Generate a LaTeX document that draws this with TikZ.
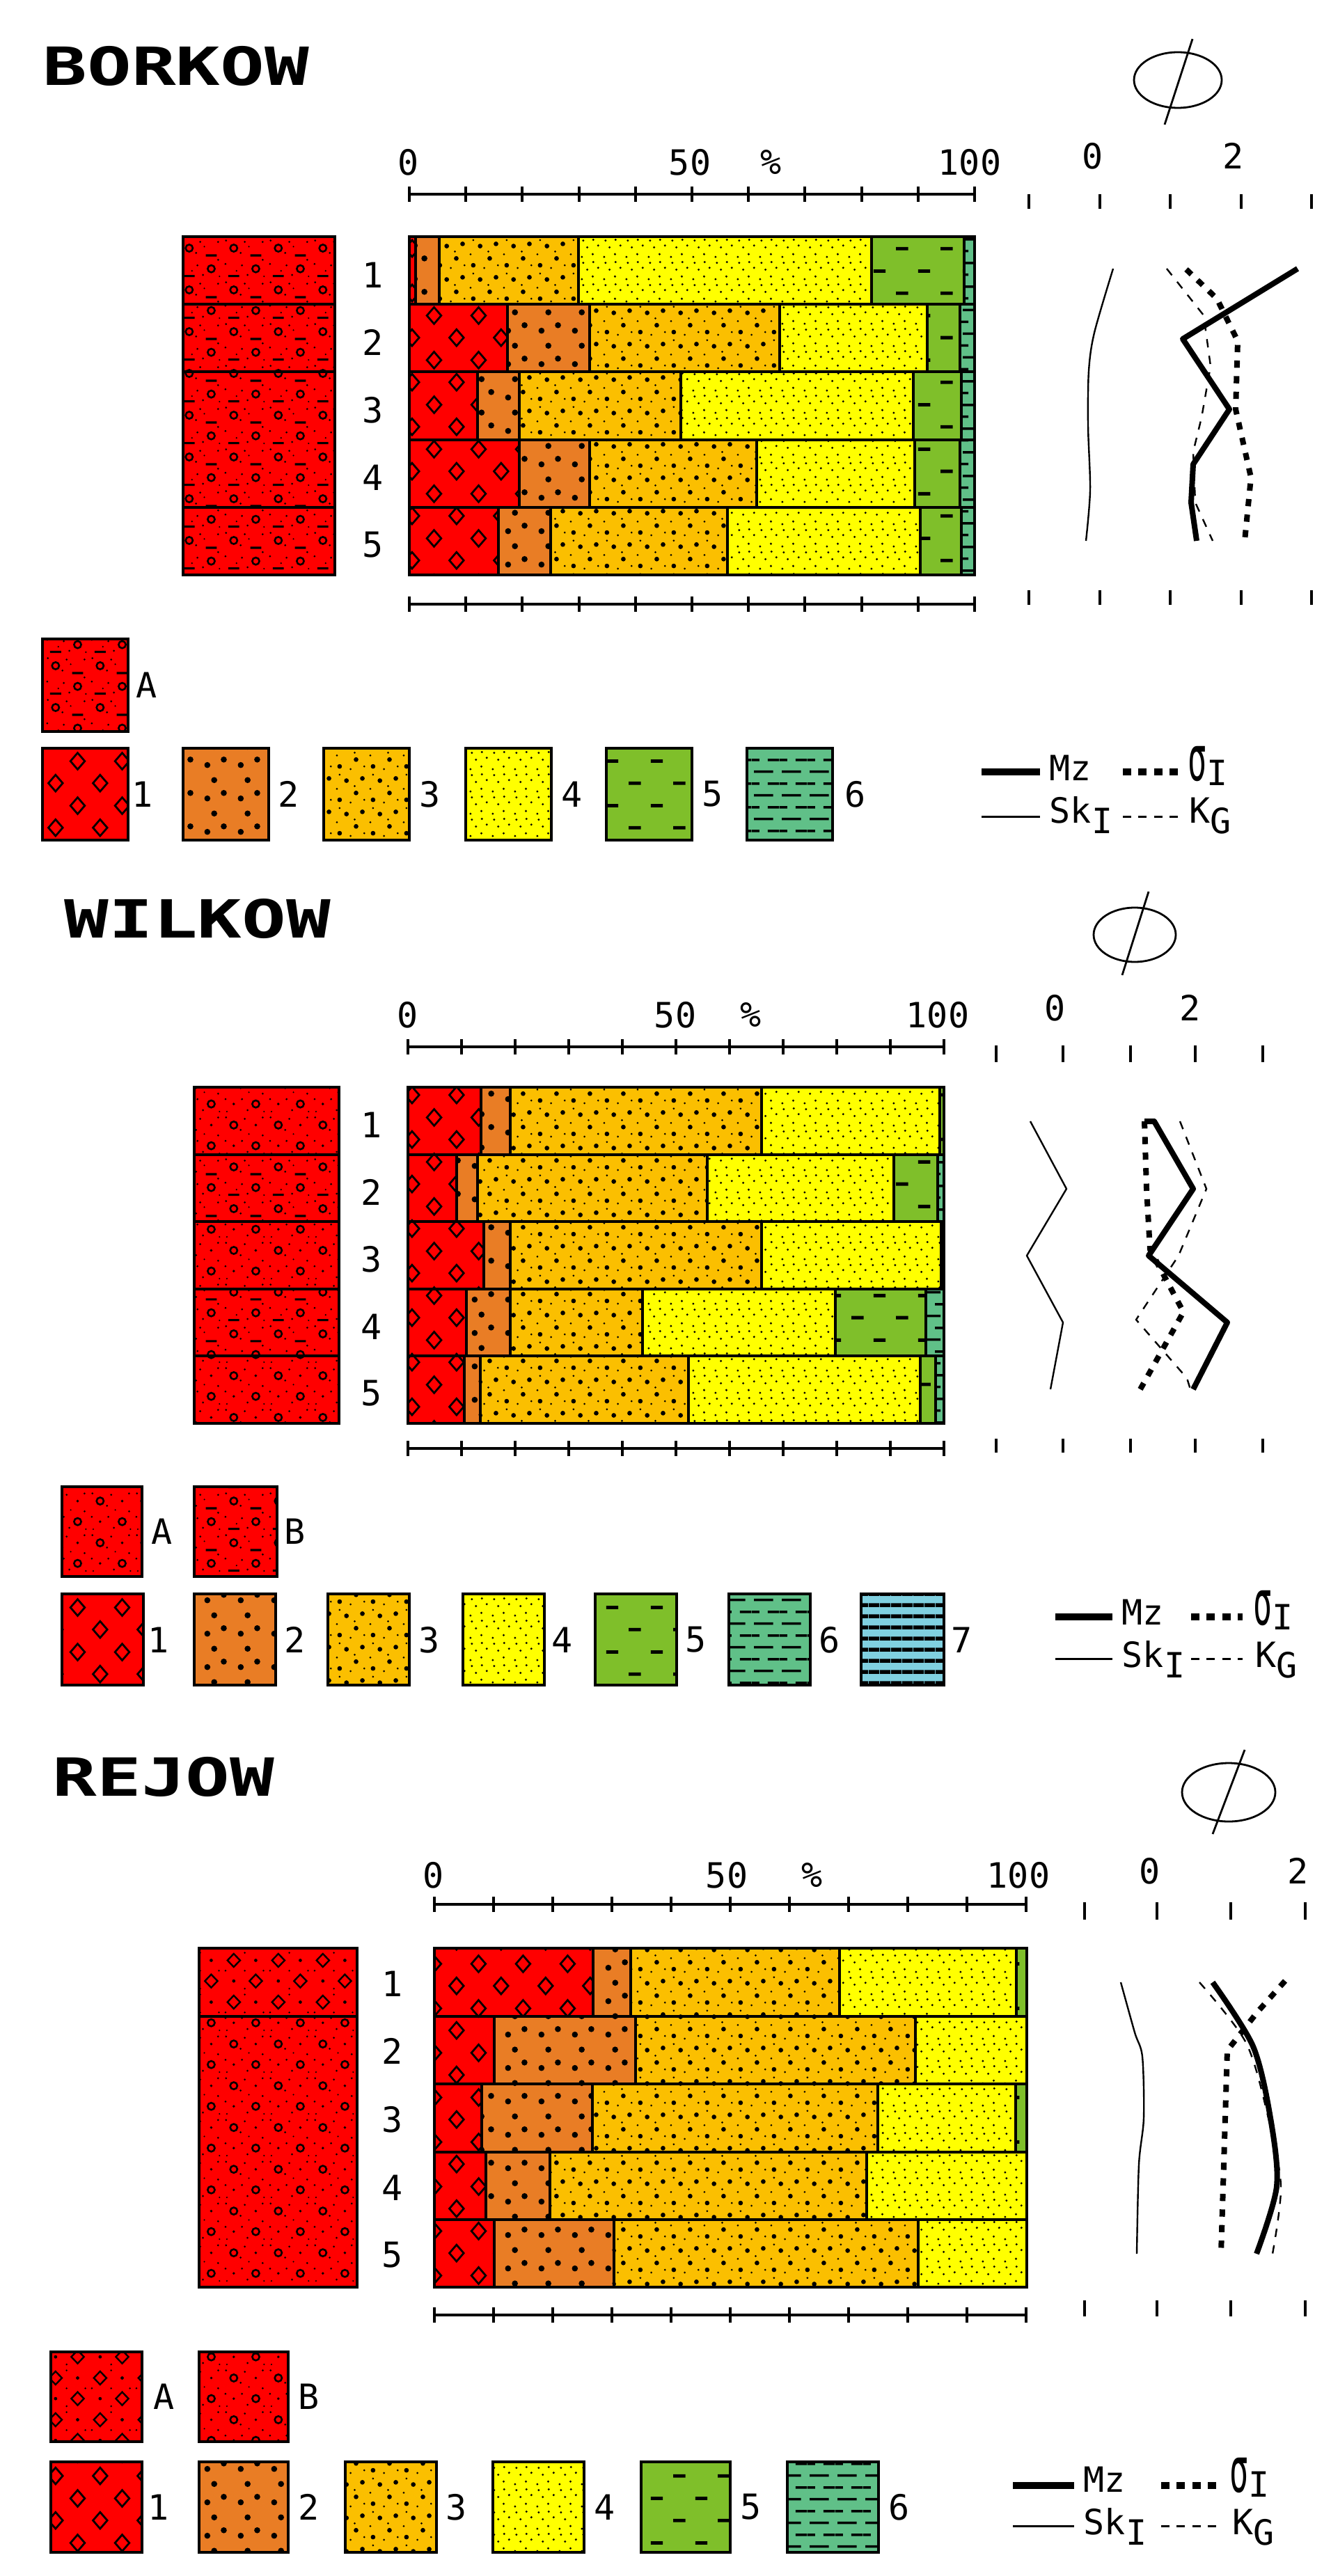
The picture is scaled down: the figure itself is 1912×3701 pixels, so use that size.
\documentclass[tikz,border=0pt]{standalone}
\usepackage{fontspec}
\setmainfont{DejaVu Sans Mono}
\usetikzlibrary{patterns}

\definecolor{cRed}{HTML}{FF0000}
\definecolor{cOrange}{HTML}{E97D25}
\definecolor{cGold}{HTML}{FBBF00}
\definecolor{cYellow}{HTML}{FFFF00}
\definecolor{cGreen}{HTML}{7FBF2A}
\definecolor{cTeal}{HTML}{60C088}
\definecolor{cBlue}{HTML}{80D0E0}

% pattern helpers (values in pt)
\newcommand\pD[4]{\pgfpathmoveto{\pgfpoint{#1pt-#3pt}{#2pt}}\pgfpathlineto{\pgfpoint{#1pt}{#2pt+#4pt}}\pgfpathlineto{\pgfpoint{#1pt+#3pt}{#2pt}}\pgfpathlineto{\pgfpoint{#1pt}{#2pt-#4pt}}\pgfpathclose}
\newcommand\pC[3]{\pgfpathcircle{\pgfpoint{#1pt}{#2pt}}{#3pt}}
\newcommand\pR[4]{\pgfpathrectangle{\pgfpoint{#1pt}{#2pt}}{\pgfpoint{#3pt}{#4pt}}}

\pgfdeclarepatternformonly{pDiam}{\pgfpointorigin}{\pgfpoint{16pt}{16pt}}{\pgfpoint{16pt}{16pt}}{%
  \pgfsetlinewidth{0.7pt}\pD{4}{4}{2.6}{3}\pD{12}{12}{2.6}{3}\pgfusepath{stroke}}
\pgfdeclarepatternformonly{pBig}{\pgfpointorigin}{\pgfpoint{12pt}{12pt}}{\pgfpoint{12pt}{12pt}}{%
  \pC{2.5}{2.5}{1.1}\pC{8.5}{4.5}{1.1}\pC{5}{9.2}{1.1}\pgfusepath{fill}}
\pgfdeclarepatternformonly{pGold}{\pgfpointorigin}{\pgfpoint{12pt}{12pt}}{\pgfpoint{12pt}{12pt}}{%
  \pC{2}{2}{0.85}\pC{8}{4.5}{0.85}\pC{4.5}{9}{0.85}\pC{10.3}{9.8}{0.85}%
  \pC{6}{1}{0.38}\pC{1}{6}{0.38}\pC{11}{2}{0.38}\pC{7.5}{7}{0.38}\pC{2}{11.2}{0.38}\pgfusepath{fill}}
\pgfdeclarepatternformonly{pYel}{\pgfpointorigin}{\pgfpoint{8pt}{8pt}}{\pgfpoint{8pt}{8pt}}{%
  \pC{1}{1}{0.42}\pC{5}{2}{0.42}\pC{3}{4.5}{0.42}\pC{7}{5.2}{0.42}\pC{1.5}{7}{0.42}\pC{5.2}{7.3}{0.42}\pgfusepath{fill}}
\pgfdeclarepatternformonly{pGrn}{\pgfpointorigin}{\pgfpoint{16pt}{16pt}}{\pgfpoint{16pt}{16pt}}{%
  \pR{1.8}{3.4}{4.4}{1.2}\pR{9.8}{11.4}{4.4}{1.2}\pgfusepath{fill}}
\pgfdeclarepatternformonly{pTeal}{\pgfpointorigin}{\pgfpoint{10pt}{8.5pt}}{\pgfpoint{10pt}{8.5pt}}{%
  \pR{0.8}{1.7}{7}{0.9}\pR{5.8}{5.95}{4.2}{0.9}\pR{0}{5.95}{2.8}{0.9}\pgfusepath{fill}}
\pgfdeclarepatternformonly{pStripe}{\pgfpointorigin}{\pgfpoint{4pt}{4pt}}{\pgfpoint{4pt}{4pt}}{%
  \pR{0}{0}{4}{1.5}\pgfusepath{fill}}
% column patterns
\pgfdeclarepatternformonly{pColA}{\pgfpointorigin}{\pgfpoint{16pt}{15pt}}{\pgfpoint{16pt}{15pt}}{%
  \pgfsetlinewidth{0.65pt}\pC{4}{11.25}{1.3}\pC{12}{3.75}{1.3}\pgfusepath{stroke}%
  \pR{10}{8.2}{4}{0.8}\pR{2}{0.7}{4}{0.8}%
  \pC{1}{5.5}{0.38}\pC{7}{5}{0.38}\pC{14.5}{7}{0.38}\pC{8}{13.5}{0.38}\pC{1.2}{14}{0.38}%
  \pC{6.5}{9.5}{0.38}\pC{9}{1.5}{0.38}\pC{14.5}{13.5}{0.38}\pC{9.5}{11.8}{0.3}\pC{5}{3}{0.3}\pC{15}{1}{0.3}\pgfusepath{fill}}
\pgfdeclarepatternformonly{pColC}{\pgfpointorigin}{\pgfpoint{16pt}{15pt}}{\pgfpoint{16pt}{15pt}}{%
  \pgfsetlinewidth{0.65pt}\pC{4}{11.25}{1.3}\pC{12}{3.75}{1.3}\pgfusepath{stroke}%
  \pC{12}{11.25}{0.5}\pC{4}{3.75}{0.5}%
  \pC{1}{5.5}{0.38}\pC{7}{5.5}{0.38}\pC{14.5}{7.5}{0.38}\pC{8}{13.5}{0.38}\pC{1.2}{14}{0.38}%
  \pC{6.5}{9.5}{0.38}\pC{9}{1.5}{0.38}\pC{14.5}{14}{0.38}\pC{9.5}{8}{0.3}\pC{1.5}{1}{0.3}\pC{15}{1}{0.3}\pgfusepath{fill}}
\pgfdeclarepatternformonly{pColR}{\pgfpointorigin}{\pgfpoint{16pt}{15pt}}{\pgfpoint{16pt}{15pt}}{%
  \pgfsetlinewidth{0.6pt}\pD{4}{11.25}{2.3}{2.4}\pD{12}{3.75}{2.3}{2.4}\pgfusepath{stroke}%
  \pC{12}{11.25}{0.6}\pC{4}{3.75}{0.6}\pC{8}{7.5}{0.35}\pC{1}{7.5}{0.35}\pC{8}{1}{0.35}\pC{14.8}{7.5}{0.35}\pC{8}{14}{0.35}\pgfusepath{fill}}

\tikzset{
  fa/.style={fill=cRed,postaction={pattern=pDiam}},
  fb/.style={fill=cOrange,postaction={pattern=pBig}},
  fc/.style={fill=cGold,postaction={pattern=pGold}},
  fd/.style={fill=cYellow,postaction={pattern=pYel}},
  fe/.style={fill=cGreen,postaction={pattern=pGrn}},
  ff/.style={fill=cTeal,postaction={pattern=pTeal}},
  fg/.style={fill=cBlue,postaction={pattern=pStripe}},
  colA/.style={fill=cRed,postaction={pattern=pColA}},
  colC/.style={fill=cRed,postaction={pattern=pColC}},
  colR/.style={fill=cRed,postaction={pattern=pColR}},
  segline/.style={draw=black,line width=0.8pt},
  scl/.style={draw=black,line width=1pt},
  ptk/.style={draw=black,line width=1pt},
  mzl/.style={draw=black,line width=2pt,line join=round},
  skl/.style={draw=black,line width=0.6pt,line join=round},
  sgl/.style={draw=black,line width=2pt,dash pattern=on 2.6pt off 3pt},
  kgl/.style={draw=black,line width=0.6pt,dash pattern=on 3pt off 3pt},
  lmz/.style={draw=black,line width=2.5pt},
  lsk/.style={draw=black,line width=0.75pt},
  lsg/.style={draw=black,line width=2.5pt,dash pattern=on 3pt off 2.6pt},
  lkg/.style={draw=black,line width=0.75pt,dash pattern=on 3pt off 2.6pt},
  phis/.style={draw=black,line width=0.7pt},
  lbl/.style={font=\fontsize{12.5pt}{13pt}\selectfont,inner sep=0pt},
  lgt/.style={font=\fontsize{12.5pt}{13pt}\selectfont,inner sep=0pt,anchor=base west},
  ttl/.style={font=\fontsize{18.9pt}{20pt}\selectfont\bfseries,inner sep=0pt,anchor=west},
}

\newcommand\sg[5]{\path[#5] (#1,#3) rectangle (#2,#4); \draw[segline] (#1,#3) rectangle (#2,#4);}
\newcommand\pctscale[3]{%
  \draw[scl] (#2,#1) -- (#3,#1);
  \foreach \i in {0,...,10}{\draw[scl] ({#2+(#3-#2)*\i/10},{#1-11}) -- ({#2+(#3-#2)*\i/10},{#1+11});}}
\newcommand\phiticks[3]{\foreach \x in {#3}{\draw[ptk] (\x,#1) -- (\x,#2);}}
\newcommand\sgI{\scalebox{0.9}[1.8]{σ}\raisebox{-0.15em}{I}}

\begin{document}
\begin{tikzpicture}[x=0.25pt,y=-0.25pt]
\useasboundingbox (0,0) rectangle (1912,3701);
\fill[white] (0,0) rectangle (1912,3701);

% ================= BORKOW =================
\node[ttl] (tB) at (61,95) {\scalebox{1.4}[1]{BORKOW}};
\draw[phis] (1692,115) ellipse [x radius=63, y radius=40];
\draw[phis] (1713,56) -- (1673,179);

\node[lbl] (bs0) at (587,233) {0};
\node[lbl] (bs50) at (991,233) {50};
\node[lbl] (bsp) at (1108,233) {\%};
\node[lbl] (bs100) at (1393,233) {100};
\node[lbl] (bp0) at (1570,224) {0};
\node[lbl] (bp2) at (1772,224) {2};

\pctscale{279}{588}{1400}
\pctscale{868}{588}{1400}
\phiticks{279}{300}{1478,1580,1681,1783,1884}
\phiticks{848}{869}{1478,1580,1681,1783,1884}

% column
\sg{263}{481}{340}{437}{colA}
\sg{263}{481}{437}{534}{colA}
\sg{263}{481}{534}{729}{colA}
\sg{263}{481}{729}{826}{colA}
\foreach \n/\yy in {1/395,2/492,3/589,4/686,5/783}{\node[lbl] (bn\n) at (536,\yy) {\n};}

% bars
\sg{588}{597}{340}{437}{fa}\sg{597}{631}{340}{437}{fb}\sg{631}{831}{340}{437}{fc}\sg{831}{1252}{340}{437}{fd}\sg{1252}{1385}{340}{437}{fe}\sg{1385}{1400}{340}{437}{ff}
\sg{588}{729}{437}{534}{fa}\sg{729}{847}{437}{534}{fb}\sg{847}{1120}{437}{534}{fc}\sg{1120}{1332}{437}{534}{fd}\sg{1332}{1379}{437}{534}{fe}\sg{1379}{1400}{437}{534}{ff}
\sg{588}{686}{534}{632}{fa}\sg{686}{746}{534}{632}{fb}\sg{746}{978}{534}{632}{fc}\sg{978}{1312}{534}{632}{fd}\sg{1312}{1381}{534}{632}{fe}\sg{1381}{1400}{534}{632}{ff}
\sg{588}{746}{632}{729}{fa}\sg{746}{847}{632}{729}{fb}\sg{847}{1087}{632}{729}{fc}\sg{1087}{1314}{632}{729}{fd}\sg{1314}{1379}{632}{729}{fe}\sg{1379}{1400}{632}{729}{ff}
\sg{588}{716}{729}{826}{fa}\sg{716}{791}{729}{826}{fb}\sg{791}{1045}{729}{826}{fc}\sg{1045}{1322}{729}{826}{fd}\sg{1322}{1381}{729}{826}{fe}\sg{1381}{1400}{729}{826}{ff}

% curves
\draw[skl] plot[smooth] coordinates {(1599,386) (1572,478) (1564,533) (1563,612) (1566,704) (1560,777)};
\draw[kgl] (1676,386) -- (1729,453) -- (1739,526) -- (1726,600) -- (1714,649) -- (1717,722) -- (1742,777);
\draw[sgl] (1704,387) -- (1748,429) -- (1778,490) -- (1775,588) -- (1797,686) -- (1788,777);
\draw[mzl] (1864,386) -- (1699,487) -- (1766,588) -- (1714,667) -- (1711,722) -- (1719,777);

% legend
\sg{61}{184}{918}{1051}{colA}
\node[lbl] (bLA) at (211,984) {A};
\sg{61}{184}{1075}{1207}{fa}\node[lbl] (bL1) at (205,1141) {1};
\sg{263}{386}{1075}{1207}{fb}\node[lbl] (bL2) at (415,1141) {2};
\sg{465}{588}{1075}{1207}{fc}\node[lbl] (bL3) at (618,1141) {3};
\sg{669}{792}{1075}{1207}{fd}\node[lbl] (bL4) at (822,1141) {4};
\sg{871}{994}{1075}{1207}{fe}\node[lbl] (bL5) at (1024,1141) {5};
\sg{1073}{1196}{1075}{1207}{ff}\node[lbl] (bL6) at (1229,1141) {6};

\coordinate (bm1) at (1410,1109); \coordinate (bm2) at (1494,1109);
\draw[lmz] (bm1) -- (bm2);
\node[lgt] (bMz) at (1507,1121) {Mz};
\coordinate (bs1) at (1613,1109); \coordinate (bs2) at (1693,1109);
\draw[lsg] (bs1) -- (bs2);
\node[lgt] (bSg) at (1706,1121) {\sgI};
\coordinate (bk1) at (1410,1173); \coordinate (bk2) at (1494,1173);
\draw[lsk] (bk1) -- (bk2);
\node[lgt] (bSk) at (1507,1182) {Sk\raisebox{-0.3em}{I}};
\coordinate (bg1) at (1613,1173); \coordinate (bg2) at (1693,1173);
\draw[lkg] (bg1) -- (bg2);
\node[lgt] (bKg) at (1708,1182) {K\raisebox{-0.3em}{G}};

% ================= WILKOW =================
\node[ttl] (tW) at (92,1320) {\scalebox{1.4}[1]{WILKOW}};
\draw[phis] (1630,1343) ellipse [x radius=59, y radius=39];
\draw[phis] (1650,1281) -- (1612,1401);

\node[lbl] (ws0) at (586,1458) {0};
\node[lbl] (ws50) at (970,1458) {50};
\node[lbl] (wsp) at (1079,1458) {\%};
\node[lbl] (ws100) at (1347,1458) {100};
\node[lbl] (wp0) at (1516,1448) {0};
\node[lbl] (wp2) at (1710,1448) {2};

\pctscale{1504}{586}{1356}
\pctscale{2081}{586}{1356}
\phiticks{1502}{1526}{1431,1527,1624,1717,1814}
\phiticks{2067}{2087}{1431,1527,1624,1717,1814}

\sg{279}{487}{1562}{1659}{colC}
\sg{279}{487}{1659}{1755}{colA}
\sg{279}{487}{1755}{1852}{colC}
\sg{279}{487}{1852}{1948}{colA}
\sg{279}{487}{1948}{2045}{colC}
\foreach \n/\yy in {1/1616,2/1713,3/1809,4/1906,5/2002}{\node[lbl] (wn\n) at (534,\yy) {\n};}

\sg{586}{691}{1562}{1659}{fa}\sg{691}{733}{1562}{1659}{fb}\sg{733}{1094}{1562}{1659}{fc}\sg{1094}{1350}{1562}{1659}{fd}\sg{1350}{1356}{1562}{1659}{fe}
\sg{586}{656}{1659}{1755}{fa}\sg{656}{686}{1659}{1755}{fb}\sg{686}{1016}{1659}{1755}{fc}\sg{1016}{1284}{1659}{1755}{fd}\sg{1284}{1347}{1659}{1755}{fe}\sg{1347}{1356}{1659}{1755}{ff}
\sg{586}{695}{1755}{1852}{fa}\sg{695}{733}{1755}{1852}{fb}\sg{733}{1094}{1755}{1852}{fc}\sg{1094}{1352}{1755}{1852}{fd}\sg{1352}{1356}{1755}{1852}{fe}
\sg{586}{670}{1852}{1948}{fa}\sg{670}{733}{1852}{1948}{fb}\sg{733}{923}{1852}{1948}{fc}\sg{923}{1200}{1852}{1948}{fd}\sg{1200}{1330}{1852}{1948}{fe}\sg{1330}{1356}{1852}{1948}{ff}
\sg{586}{667}{1948}{2045}{fa}\sg{667}{690}{1948}{2045}{fb}\sg{690}{989}{1948}{2045}{fc}\sg{989}{1322}{1948}{2045}{fd}\sg{1322}{1344}{1948}{2045}{fe}\sg{1344}{1356}{1948}{2045}{ff}

\draw[skl] (1480,1611) -- (1532,1708) -- (1475,1804) -- (1527,1900) -- (1509,1996);
\draw[kgl] (1695,1611) -- (1733,1708) -- (1693,1804) -- (1632,1896) -- (1705,1980) -- (1710,1996);
\draw[sgl] (1644,1611) -- (1647,1708) -- (1652,1795) -- (1700,1885) -- (1638,1996);
\draw[mzl] (1644,1611) -- (1658,1611) -- (1714,1708) -- (1650,1804) -- (1763,1900) -- (1714,1996);

\sg{89}{204}{2136}{2265}{colC}\node[lbl] (wLA) at (233,2200) {A};
\sg{279}{398}{2136}{2265}{colA}\node[lbl] (wLB) at (424,2200) {B};
\sg{89}{206}{2290}{2421}{fa}\node[lbl] (wL1) at (228,2356) {1};
\sg{279}{396}{2290}{2421}{fb}\node[lbl] (wL2) at (424,2356) {2};
\sg{471}{588}{2290}{2421}{fc}\node[lbl] (wL3) at (617,2356) {3};
\sg{665}{782}{2290}{2421}{fd}\node[lbl] (wL4) at (808,2356) {4};
\sg{855}{972}{2290}{2421}{fe}\node[lbl] (wL5) at (1000,2356) {5};
\sg{1047}{1164}{2290}{2421}{ff}\node[lbl] (wL6) at (1192,2356) {6};
\sg{1237}{1356}{2290}{2421}{fg}\node[lbl] (wL7) at (1382,2356) {7};

\coordinate (wm1) at (1516,2323); \coordinate (wm2) at (1598,2323);
\draw[lmz] (wm1) -- (wm2);
\node[lgt] (wMz) at (1611,2334) {Mz};
\coordinate (ws1) at (1711,2323); \coordinate (ws2) at (1785,2323);
\draw[lsg] (ws1) -- (ws2);
\node[lgt] (wSg) at (1800,2334) {\sgI};
\coordinate (wk1) at (1516,2383); \coordinate (wk2) at (1598,2383);
\draw[lsk] (wk1) -- (wk2);
\node[lgt] (wSk) at (1611,2395) {Sk\raisebox{-0.3em}{I}};
\coordinate (wg1) at (1711,2383); \coordinate (wg2) at (1785,2383);
\draw[lkg] (wg1) -- (wg2);
\node[lgt] (wKg) at (1803,2395) {K\raisebox{-0.3em}{G}};

% ================= REJOW =================
\node[ttl] (tR) at (75,2553) {\scalebox{1.4}[1]{REJOW}};
\draw[phis] (1765,2575) ellipse [x radius=67, y radius=42];
\draw[phis] (1788,2514) -- (1742,2635);

\node[lbl] (rs0) at (623,2694) {0};
\node[lbl] (rs50) at (1044,2694) {50};
\node[lbl] (rsp) at (1167,2694) {\%};
\node[lbl] (rs100) at (1463,2694) {100};
\node[lbl] (rp0) at (1652,2688) {0};
\node[lbl] (rp2) at (1865,2688) {2};

\pctscale{2736}{624}{1474}
\pctscale{3326}{624}{1474}
\phiticks{2733}{2758}{1558,1662,1768,1875}
\phiticks{3305}{3328}{1558,1662,1768,1875}

\sg{286}{513}{2799}{2897}{colR}
\sg{286}{513}{2897}{3286}{colC}
\foreach \n/\yy in {1/2850,2/2947,3/3045,4/3143,5/3240}{\node[lbl] (rn\n) at (564,\yy) {\n};}

\sg{624}{852}{2799}{2897}{fa}\sg{852}{906}{2799}{2897}{fb}\sg{906}{1206}{2799}{2897}{fc}\sg{1206}{1460}{2799}{2897}{fd}\sg{1460}{1475}{2799}{2897}{fe}
\sg{624}{710}{2897}{2994}{fa}\sg{710}{913}{2897}{2994}{fb}\sg{913}{1315}{2897}{2994}{fc}\sg{1315}{1475}{2897}{2994}{fd}
\sg{624}{692}{2994}{3092}{fa}\sg{692}{851}{2994}{3092}{fb}\sg{851}{1261}{2994}{3092}{fc}\sg{1261}{1459}{2994}{3092}{fd}\sg{1459}{1475}{2994}{3092}{fe}
\sg{624}{698}{3092}{3189}{fa}\sg{698}{790}{3092}{3189}{fb}\sg{790}{1245}{3092}{3189}{fc}\sg{1245}{1475}{3092}{3189}{fd}
\sg{624}{710}{3189}{3286}{fa}\sg{710}{882}{3189}{3286}{fb}\sg{882}{1319}{3189}{3286}{fc}\sg{1319}{1475}{3189}{3286}{fd}

\draw[skl] plot[smooth] coordinates {(1610,2848) (1630,2920) (1641,2955) (1643,3043) (1636,3110) (1633,3238)};
\draw[kgl] plot[smooth] coordinates {(1723,2848) (1790,2935) (1822,3043) (1840,3141) (1828,3238)};
\draw[sgl] (1846,2846) -- (1806,2891) -- (1763,2946) -- (1760,3043) -- (1757,3141) -- (1754,3238);
\draw[mzl] plot[smooth] coordinates {(1742,2848) (1800,2940) (1825,3043) (1834,3141) (1805,3238)};

\sg{73}{204}{3379}{3508}{colR}\node[lbl] (rLA) at (236,3443) {A};
\sg{286}{414}{3379}{3508}{colC}\node[lbl] (rLB) at (444,3443) {B};
\sg{73}{204}{3537}{3667}{fa}\node[lbl] (rL1) at (228,3602) {1};
\sg{286}{414}{3537}{3667}{fb}\node[lbl] (rL2) at (444,3602) {2};
\sg{496}{627}{3537}{3667}{fc}\node[lbl] (rL3) at (656,3602) {3};
\sg{708}{839}{3537}{3667}{fd}\node[lbl] (rL4) at (869,3602) {4};
\sg{921}{1049}{3537}{3667}{fe}\node[lbl] (rL5) at (1079,3602) {5};
\sg{1131}{1262}{3537}{3667}{ff}\node[lbl] (rL6) at (1292,3602) {6};

\coordinate (rm1) at (1455,3571); \coordinate (rm2) at (1543,3571);
\draw[lmz] (rm1) -- (rm2);
\node[lgt] (rMz) at (1556,3580) {Mz};
\coordinate (rs1) at (1668,3571); \coordinate (rs2) at (1751,3571);
\draw[lsg] (rs1) -- (rs2);
\node[lgt] (rSg) at (1766,3580) {\sgI};
\coordinate (rk1) at (1455,3629); \coordinate (rk2) at (1543,3629);
\draw[lsk] (rk1) -- (rk2);
\node[lgt] (rSk) at (1556,3641) {Sk\raisebox{-0.3em}{I}};
\coordinate (rg1) at (1668,3629); \coordinate (rg2) at (1751,3629);
\draw[lkg] (rg1) -- (rg2);
\node[lgt] (rKg) at (1770,3641) {K\raisebox{-0.3em}{G}};

\end{tikzpicture}
\end{document}
